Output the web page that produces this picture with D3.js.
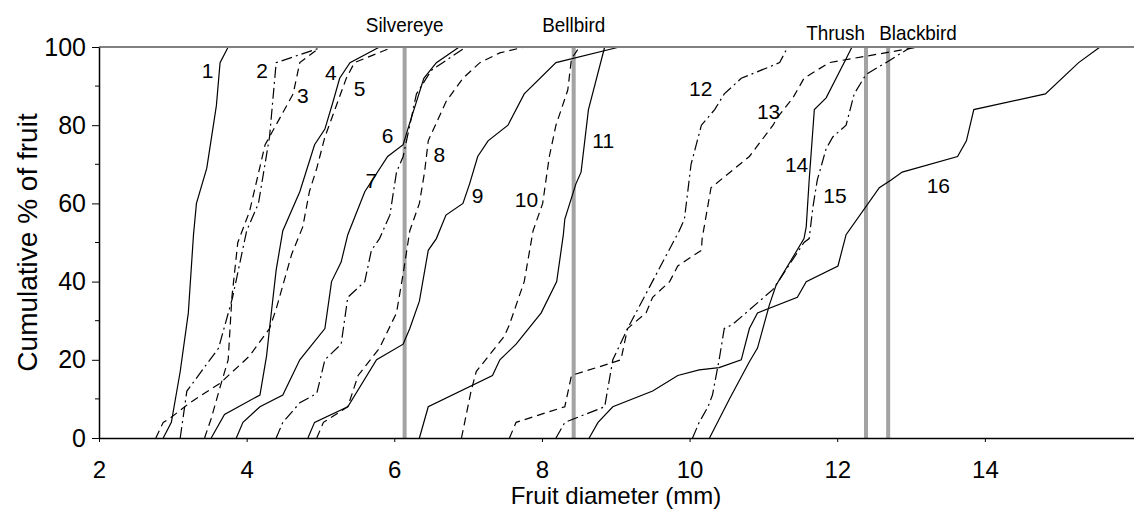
<!DOCTYPE html>
<html>
<head>
<meta charset="utf-8">
<script src="https://cdn.jsdelivr.net/npm/d3@7"></script>
<style>
    body { margin: 0; background: #fff; }
    svg text { font-family: "Liberation Sans", Arial, sans-serif; fill: #000; }
</style>
</head>
<body>
<div class="canvas"></div>
<script>
// cumulative % of fruit vs diameter, one array per plant species
const fruit1 = [[2.87,0],[2.98,4],[3.1,17],[3.21,32],[3.28,52],[3.32,60],[3.46,69],[3.59,85],[3.64,96],[3.75,100]];
const fruit2 = [[3.1,0],[3.19,12],[3.62,23],[3.81,36],[4.0,53],[4.16,60],[4.31,77],[4.4,96],[5.03,100]];
const fruit3 = [[3.43,0],[3.52,5],[3.64,13],[3.75,20],[3.8,36],[3.88,50],[4.04,58],[4.25,75],[4.63,88],[4.72,96],[5.0,100]];
const fruit4 = [[3.52,0],[3.7,6],[4.18,11],[4.27,21],[4.31,28],[4.4,43],[4.49,53],[4.72,63],[4.92,75],[5.06,79],[5.17,86],[5.26,92],[5.4,96],[5.8,100]];
const fruit5 = [[2.77,0],[2.87,4],[2.96,5],[3.23,9],[3.64,14],[4.04,21],[4.31,28],[4.4,33],[4.49,39],[4.61,47],[4.76,54],[4.85,63],[4.95,69],[5.06,77],[5.35,92],[5.46,96],[5.98,100]];
const fruit6 = [[3.86,0],[3.95,4],[4.18,8],[4.49,11],[4.72,20],[5.06,28],[5.15,40],[5.28,45],[5.37,52],[5.6,63],[5.91,72],[6.12,75],[6.2,80],[6.4,92],[6.57,96],[6.88,100]];
const fruit7 = [[4.4,0],[4.49,4],[4.72,9],[4.95,11.4],[5.06,20],[5.28,24],[5.37,36],[5.6,40],[5.69,48],[5.8,51],[5.94,57],[6.03,68],[6.12,72],[6.3,88],[6.5,94],[6.97,100]];
const fruit8 = [[4.95,0],[5.04,4],[5.37,8],[5.51,16],[5.8,23],[6.03,32],[6.12,42],[6.21,53],[6.34,60],[6.41,68],[6.46,76],[6.7,86],[6.93,92],[7.16,96],[7.43,98.5],[7.76,100]];
const fruit9 = [[4.83,0],[4.92,4],[5.37,8],[5.76,20],[6.12,24],[6.21,28],[6.34,35],[6.46,48],[6.57,51],[6.7,57],[6.93,60],[7.02,65],[7.13,72],[7.27,76],[7.54,80],[7.76,88],[8.19,96],[9.05,100]];
const fruit10 = [[6.91,0],[7.04,12],[7.11,17],[7.49,26],[7.56,29],[7.76,40],[7.88,53],[8.01,60],[8.1,72],[8.19,80],[8.35,89],[8.4,97],[8.51,100]];
const fruit11 = [[6.34,0],[6.46,8],[7.33,16],[7.43,20],[7.65,24],[7.99,32],[8.2,40],[8.29,52],[8.31,56],[8.46,65],[8.53,68],[8.63,84],[8.85,100]];
const fruit12 = [[8.19,0],[8.31,4],[8.85,8],[8.96,20],[9.16,28],[9.86,53],[9.93,56],[10.02,70],[10.16,80],[10.34,84],[10.47,88],[10.7,92],[11.22,96],[11.33,100]];
const fruit13 = [[7.56,0],[7.65,4],[8.31,8],[8.4,16],[8.91,19],[9.07,20],[9.16,28],[9.41,32],[9.5,36],[9.73,40],[9.84,44],[10.16,48],[10.17,51],[10.29,64],[10.81,72],[11.13,80],[11.19,82],[11.4,87],[11.55,92],[11.89,96],[13.1,100]];
const fruit14 = [[10.27,0],[10.54,10],[10.81,19.5],[10.92,23],[11.08,34],[11.17,39],[11.55,51],[11.58,54],[11.62,66],[11.69,84],[11.85,87],[12.12,97],[12.2,100]];
const fruit15 = [[10.04,0],[10.13,4],[10.25,8],[10.31,11],[10.4,20],[10.47,28],[10.58,29],[11.13,38],[11.55,50],[11.62,51],[11.67,59],[11.73,66],[11.85,74],[11.94,77],[12.12,80],[12.23,88],[12.39,93],[12.66,96],[13.0,100]];
const fruit16 = [[8.64,0],[8.76,4],[8.96,8],[9.5,12],[9.84,16],[10.13,17.4],[10.4,18],[10.7,20],[10.81,28],[10.92,32],[11.46,36],[11.58,40],[12.01,44],[12.12,52],[12.57,64],[12.73,66],[12.88,68],[13.63,72],[13.75,76],[13.85,84],[14.82,88],[15.27,96],[15.56,100]];

const series = [fruit1, fruit2, fruit3, fruit4, fruit5, fruit6, fruit7, fruit8,
    fruit9, fruit10, fruit11, fruit12, fruit13, fruit14, fruit15, fruit16];
const lineStyles = ["solid", "dashdot", "dashed", "solid", "dashed", "solid", "dashdot", "dashed",
    "solid", "dashed", "solid", "dashdot", "dashed", "solid", "dashdot", "solid"];

// where the number of each curve sits (mm, %)
const labelX = [3.47, 4.21, 4.76, 5.14, 5.53, 5.91, 5.69, 6.61, 7.13, 7.79, 8.83, 10.15, 11.07, 11.45, 11.97, 13.37];
const labelY = [94, 94, 87.7, 93.6, 89.5, 77.5, 66, 72.4, 62, 61, 76, 89.5, 83.4, 70, 62, 64.7];

// bird gape widths (mm)
const birds = ["Silvereye", "Bellbird", "Thrush", "Blackbird"];
const gapes = [6.14, 8.43, 12.39, 12.69];

const xTicks = [2, 4, 6, 8, 10, 12, 14];
const yTicks = [0, 20, 40, 60, 80, 100];
const yMinor = [10, 30, 50, 70, 90];

let margin = { left: 99, right: 0, top: 47, bottom: 73 };
let width = 1134, height = 511;
let chartDims = {
    width: width - margin.left - margin.right,
    height: height - margin.top - margin.bottom,
};

const svg = d3.select(".canvas").append("svg")
    .attr("width", width)
    .attr("height", height);

const chart = svg.append("g")
    .attr("transform", `translate(${margin.left},${margin.top})`);

const x = d3.scaleLinear().domain([2, 16.02]).range([0, chartDims.width]);
const y = d3.scaleLinear().domain([0, 100]).range([chartDims.height, 0]);

const dashes = { solid: null, dashed: "8,5", dashdot: "11,4,2,4" };

// gape bars
chart.selectAll(".gape")
    .data(gapes)
    .enter()
    .append("line")
    .attr("class", "gape")
    .attr("x1", d => x(d)).attr("x2", d => x(d))
    .attr("y1", y(0)).attr("y2", y(100))
    .attr("stroke", "#a3a3a3")
    .attr("stroke-width", 4);

const lineGen = d3.line().x(d => x(d[0])).y(d => y(d[1]));

chart.selectAll(".curve")
    .data(series)
    .enter()
    .append("path")
    .attr("class", "curve")
    .attr("d", lineGen)
    .attr("fill", "none")
    .attr("stroke", "#000")
    .attr("stroke-width", 1.2)
    .attr("stroke-dasharray", (d, i) => dashes[lineStyles[i]]);

chart.selectAll(".curve-label")
    .data(labelX)
    .enter()
    .append("text")
    .attr("class", "curve-label")
    .attr("x", d => x(d))
    .attr("y", (d, i) => y(labelY[i]))
    .attr("text-anchor", "middle")
    .attr("dy", "0.36em")
    .style("font-size", "21px")
    .text((d, i) => i + 1);

// top frame line
chart.append("line")
    .attr("x1", 0).attr("x2", chartDims.width)
    .attr("y1", 0).attr("y2", 0)
    .attr("stroke", "#808080")
    .attr("stroke-width", 2);

// axes
const xAxis = d3.axisBottom(x).tickValues(xTicks).tickSize(4).tickSizeOuter(0);
const yAxis = d3.axisLeft(y).tickValues(yTicks).tickSize(7).tickSizeOuter(0).tickPadding(6);

const xAxisGroup = chart.append("g")
    .attr("transform", `translate(0,${chartDims.height})`)
    .call(xAxis);
xAxisGroup.selectAll("text").style("font-size", "24px").attr("y", 23).attr("dy", "0.71em");

const yAxisGroup = chart.append("g").call(yAxis);
yAxisGroup.selectAll("text").style("font-size", "25px");
yAxisGroup.selectAll(".minor")
    .data(yMinor)
    .enter()
    .append("line")
    .attr("class", "minor")
    .attr("x1", -4).attr("x2", 0)
    .attr("y1", d => y(d)).attr("y2", d => y(d))
    .attr("stroke", "#000");

svg.selectAll(".domain").attr("stroke-width", 1.5);

// bird names over the bars
const birdAnchor = ["middle", "middle", "end", "start"];
const birdShift = [0, 0, -1, -9];
const birdTop = [-15, -15, -7, -7];
chart.selectAll(".bird")
    .data(birds)
    .enter()
    .append("text")
    .attr("class", "bird")
    .attr("transform", (d, i) => `translate(${x(gapes[i]) + birdShift[i]},${birdTop[i]}) scale(0.9,1)`)
    .attr("text-anchor", (d, i) => birdAnchor[i])
    .style("font-size", "21px")
    .text(d => d);

// axis titles
svg.append("text")
    .attr("x", 616)
    .attr("y", 504)
    .attr("text-anchor", "middle")
    .style("font-size", "24px")
    .text("Fruit diameter (mm)");

svg.append("text")
    .attr("transform", `translate(37,${margin.top + y(50)}) rotate(-90)`)
    .attr("text-anchor", "middle")
    .style("font-size", "28px")
    .text("Cumulative % of fruit");
</script>
</body>
</html>
